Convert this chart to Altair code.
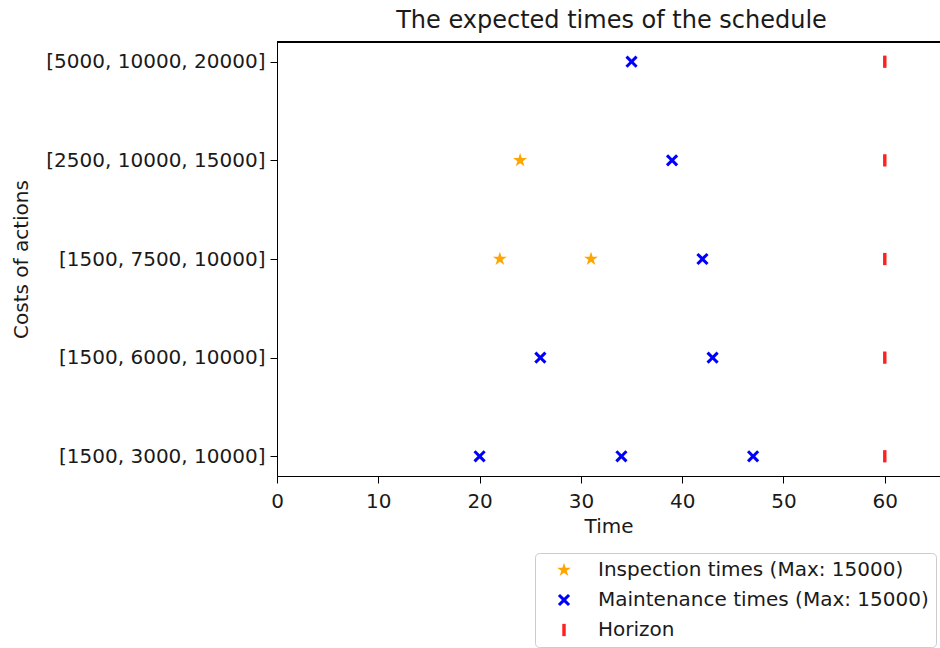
import altair as alt
import pandas as pd

# ---- data ----
cost_labels = [
    "[5000, 10000, 20000]",
    "[2500, 10000, 15000]",
    "[1500, 7500, 10000]",
    "[1500, 6000, 10000]",
    "[1500, 3000, 10000]",
]
inspection_times = [[], [24], [22, 31], [], []]
maintenance_times = [[35], [39], [42], [26, 43], [20, 34, 47]]
horizon = [60, 60, 60, 60, 60]

series_names = [
    "Inspection times (Max: 15000)",
    "Maintenance times (Max: 15000)",
    "Horizon",
]
x_ticks = [0, 10, 20, 30, 40, 50, 60]

rows = []
for i, lab in enumerate(cost_labels):
    for t in inspection_times[i]:
        rows.append({"cost": lab, "time": t, "kind": series_names[0]})
    for t in maintenance_times[i]:
        rows.append({"cost": lab, "time": t, "kind": series_names[1]})
    rows.append({"cost": lab, "time": horizon[i], "kind": series_names[2]})
df = pd.DataFrame(rows)

FONT = "DejaVu Sans"
FS = 20
STAR = ("M0,-1.2L0.27,-0.37L1.14,-0.37L0.44,0.14L0.71,0.97L0,0.46"
        "L-0.71,0.97L-0.44,0.14L-1.14,-0.37L-0.27,-0.37Z")
XSHAPE = ("M-1,-0.65L-0.65,-1L0,-0.35L0.65,-1L1,-0.65L0.35,0L1,0.65"
          "L0.65,1L0,0.35L-0.65,1L-1,0.65L-0.35,0Z")
BAR = "M-0.28,-1L0.28,-1L0.28,1L-0.28,1Z"

W, H = 663, 434

points = alt.Chart(df).mark_point(filled=True, opacity=1, size=150).encode(
    x=alt.X("time:Q", title="Time",
            scale=alt.Scale(domain=[0, 65.45], nice=False, zero=False),
            axis=alt.Axis(values=x_ticks, grid=False, labelFontSize=FS,
                          titleFontSize=FS, labelFont=FONT, titleFont=FONT,
                          tickSize=7, labelPadding=8, titlePadding=5,
                          labelFlush=False,
                          domainColor="black", tickColor="black",
                          labelColor="#1a1a1a", titleColor="#1a1a1a",
                          titleFontWeight="normal")),
    y=alt.Y("cost:N", title="Costs of actions", sort=cost_labels,
            scale=alt.Scale(type="point", padding=0.2),
            axis=alt.Axis(grid=False, labelFontSize=FS, titleFontSize=FS,
                          labelFont=FONT, titleFont=FONT, tickSize=7,
                          labelPadding=5, labelLimit=400,
                          titleX=-256, titleBaseline="middle",
                          domainColor="black", tickColor="black",
                          labelColor="#1a1a1a", titleColor="#1a1a1a",
                          titleFontWeight="normal")),
    color=alt.Color("kind:N", title=None, sort=series_names,
                    scale=alt.Scale(domain=series_names,
                                    range=["#FFA500", "#0000FF", "#FF2020"]),
                    legend=alt.Legend(orient="none", legendX=258, legendY=511,
                                      labelFontSize=FS, labelFont=FONT,
                                      labelColor="#1a1a1a",
                                      symbolSize=150, symbolOffset=12,
                                      labelOffset=24, rowPadding=10,
                                      padding=7, strokeColor="#cccccc",
                                      fillColor="white", cornerRadius=4,
                                      labelLimit=400)),
    shape=alt.Shape("kind:N", title=None, sort=series_names,
                    scale=alt.Scale(domain=series_names,
                                    range=[STAR, XSHAPE, BAR])),
)

top_spine = alt.Chart(df).mark_rule(color="black", strokeWidth=1).encode(
    x=alt.value(0), x2=alt.value(W + 5), y=alt.value(0)
)

chart = alt.layer(points, top_spine).properties(
    width=W, height=H,
    title=alt.TitleParams("The expected times of the schedule", fontSize=24,
                          font=FONT, fontWeight="normal", color="#1a1a1a",
                          offset=9, dx=3),
    autosize="none",
    padding={"left": 277, "top": 42, "right": 0, "bottom": 172},
).configure_view(stroke=None).configure(background="white")

chart.save("out.html", embed_options={"renderer": "svg", "actions": False})
